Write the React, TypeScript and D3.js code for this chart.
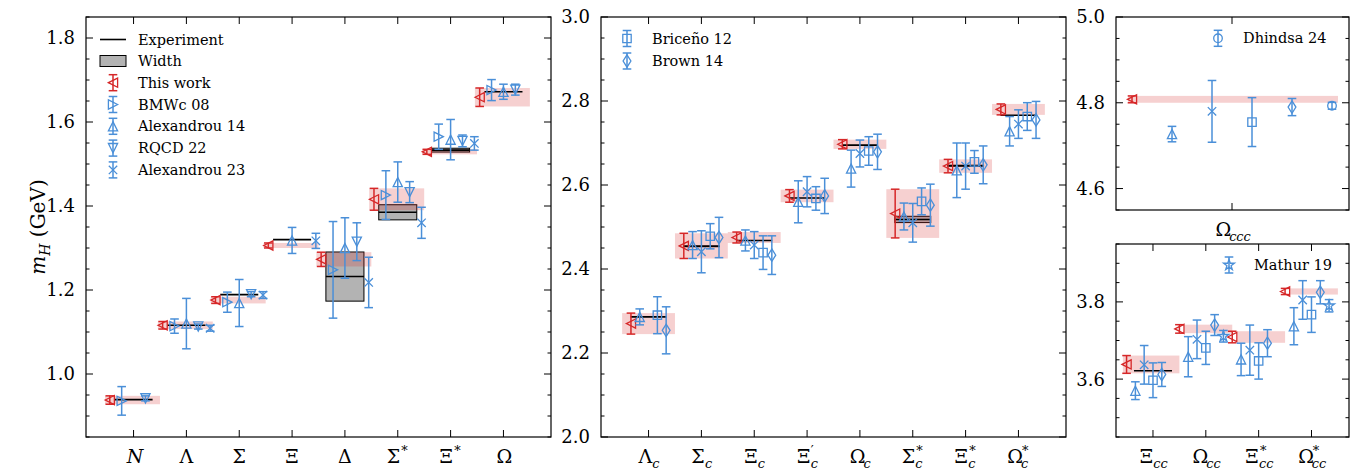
import React from "react";
import * as d3 from "d3";

type Pt = [number, number] | null;

const FONT = "DejaVu Serif";
const RED = "#d62728";
const BLUE = "#4a8fd8";

// ===== Light baryons =====
const lightCategories = ["N", "Λ", "Σ", "Ξ", "Δ", "Σ*", "Ξ*", "Ω"];
const lightExperiment: (number | null)[] = [0.939, 1.116, 1.189, 1.32, 1.232, 1.385, 1.533, 1.672];
const lightWidths = [0, 0, 0, 0, 0.117, 0.036, 0.0091, 0];
const lightThisWork: Pt[] = [[0.938, 0.01], [1.116, 0.009], [1.176, 0.008], [1.306, 0.006], [1.273, 0.017], [1.416, 0.026], [1.529, 0.006], [1.659, 0.022]];
const lightBMWc08: Pt[] = [[0.936, 0.034], [1.114, 0.017], [1.171, 0.024], null, [1.248, 0.115], [1.426, 0.058], [1.565, 0.03], [1.676, 0.025]];
const lightAlexandrou14: Pt[] = [null, [1.12, 0.06], [1.169, 0.056], [1.318, 0.031], [1.3, 0.072], [1.457, 0.048], [1.558, 0.048], [1.672, 0.018]];
const lightRQCD22: Pt[] = [[0.942, 0.006], [1.113, 0.006], [1.19, 0.006], null, [1.315, 0.045], [1.433, 0.025], [1.555, 0.014], [1.677, 0.013]];
const lightAlexandrou23: Pt[] = [null, [1.109, 0.007], [1.188, 0.008], [1.317, 0.018], [1.218, 0.06], [1.36, 0.037], [1.549, 0.016], null];
const lightTicks = [1.0, 1.2, 1.4, 1.6, 1.8];

// ===== Singly charmed =====
const charmCategories = ["Λ_c", "Σ_c", "Ξ_c", "Ξ′_c", "Ω_c", "Σ*_c", "Ξ*_c", "Ω*_c"];
const charmExperiment: (number | null)[] = [2.286, 2.454, 2.468, 2.569, 2.695, 2.518, 2.646, 2.766];
const charmWidths = [0, 0.002, 0, 0, 0, 0.015, 0.0024, 0];
const charmThisWork: Pt[] = [[2.27, 0.025], [2.455, 0.03], [2.475, 0.013], [2.574, 0.015], [2.697, 0.011], [2.532, 0.058], [2.645, 0.016], [2.78, 0.013]];
const charmAlexandrou14: Pt[] = [[2.286, 0.019], [2.457, 0.032], [2.468, 0.025], [2.56, 0.05], [2.639, 0.044], [2.525, 0.032], [2.635, 0.065], [2.728, 0.035]];
const charmAlexandrou23: Pt[] = [null, [2.441, 0.05], [2.457, 0.032], [2.584, 0.036], [2.675, 0.032], [2.51, 0.046], [2.645, 0.055], [2.745, 0.034]];
const charmBriceno12: Pt[] = [[2.29, 0.044], [2.478, 0.03], [2.439, 0.04], [2.568, 0.028], [2.681, 0.034], [2.561, 0.032], [2.655, 0.027], [2.763, 0.033]];
const charmBrown14: Pt[] = [[2.254, 0.056], [2.475, 0.048], [2.433, 0.046], [2.574, 0.042], [2.679, 0.042], [2.552, 0.05], [2.648, 0.045], [2.755, 0.044]];
const charmTicks = [2.0, 2.2, 2.4, 2.6, 2.8, 3.0];

// ===== Triply charmed =====
const tripleCategories = ["Ω_ccc"];
const tripleThisWork: Pt[] = [[4.808, 0.008]];
const tripleAlexandrou14: Pt[] = [[4.727, 0.018]];
const tripleAlexandrou23: Pt[] = [[4.78, 0.072]];
const tripleBriceno12: Pt[] = [[4.755, 0.057]];
const tripleBrown14: Pt[] = [[4.79, 0.02]];
const tripleDhindsa24: Pt[] = [[4.793, 0.008]];
const tripleTicks = [4.6, 4.8, 5.0];

// ===== Doubly charmed =====
const doubleCategories = ["Ξ_cc", "Ω_cc", "Ξ*_cc", "Ω*_cc"];
const doubleExperiment: (number | null)[] = [3.6216, null, null, null];
const doubleThisWork: Pt[] = [[3.638, 0.023], [3.73, 0.011], [3.709, 0.015], [3.827, 0.008]];
const doubleAlexandrou14: Pt[] = [[3.57, 0.023], [3.658, 0.052], [3.651, 0.042], [3.737, 0.048]];
const doubleAlexandrou23: Pt[] = [[3.637, 0.05], [3.703, 0.05], [3.675, 0.065], [3.805, 0.05]];
const doubleBriceno12: Pt[] = [[3.597, 0.045], [3.681, 0.043], [3.647, 0.047], [3.767, 0.046]];
const doubleBrown14: Pt[] = [[3.612, 0.031], [3.74, 0.027], [3.693, 0.035], [3.825, 0.03]];
const doubleMathur19: Pt[] = [null, [3.711, 0.015], null, [3.79, 0.016]];
const doubleTicks = [3.6, 3.8];

// ===== layout / style =====
type Series = { data: Pt[]; marker: string; color: string; off: number };
type PanelCfg = {
  left: number; right: number; top: number; bottom: number;
  xDomain: [number, number]; yDomain: [number, number];
  cats: string[]; catPos: number[]; ticks: number[];
  exp?: (number | null)[]; widths?: number[]; expHalf: number;
  band: Pt[]; bandLeft: number[]; bandRight: number[];
  series: Series[];
};

const txt = (size: number, extra: React.CSSProperties = {}): React.CSSProperties => ({
  fontFamily: FONT,
  fontSize: size,
  ...extra,
});

function markerPath(m: string): string {
  const s = 4.6;
  switch (m) {
    case "<": return `M${-s},0L${s},${-s}L${s},${s}Z`;
    case ">": return `M${s},0L${-s},${-s}L${-s},${s}Z`;
    case "^": return `M0,${-s}L${-s},${s}L${s},${s}Z`;
    case "v": return `M0,${s}L${-s},${-s}L${s},${-s}Z`;
    case "s": return `M${-4.2},${-4.2}H${4.2}V${4.2}H${-4.2}Z`;
    case "d": return `M0,${-6.2}L${3.9},0L0,${6.2}L${-3.9},0Z`;
    case "x": return `M${-4.2},${-4.2}L${4.2},${4.2}M${-4.2},${4.2}L${4.2},${-4.2}`;
    case "o": return `M${-4.3},0A4.3,4.3 0 1,0 ${4.3},0A4.3,4.3 0 1,0 ${-4.3},0Z`;
    case "*": return d3.symbol(d3.symbolStar, 36)() || "";
    default: return "";
  }
}

function ErrPoint({ x, y, lo, hi, marker, color }: { x: number; y: number; lo: number; hi: number; marker: string; color: string }) {
  const c = 4.3;
  return (
    <g stroke={color} fill="none" strokeWidth={1.5}>
      <line x1={x} x2={x} y1={lo} y2={hi} />
      <line x1={x - c} x2={x + c} y1={lo} y2={lo} />
      <line x1={x - c} x2={x + c} y1={hi} y2={hi} />
      <path d={markerPath(marker)} transform={`translate(${x},${y})`} strokeWidth={1.3} />
    </g>
  );
}

function MathLabel({ label, x, y, size }: { label: string; x: number; y: number; size: number }) {
  const [main, sub] = label.split("_");
  let base = main;
  let sup = "";
  const last = main.slice(-1);
  if (main.length > 1 && (last === "*" || last === "′")) {
    base = main.slice(0, -1);
    sup = last;
  }
  const italic = /^[A-Za-z]+$/.test(base);
  const small = size * 0.68;
  const baseW = size * 0.72;
  const supW = sup ? (sup === "*" ? small * 0.5 + 2 : small * 0.3) : 0;
  const subW = sub ? sub.length * small * 0.5 : 0;
  const total = baseW + Math.max(supW, subW);
  const x0 = x - total / 2;
  const sx = x0 + baseW + (sup === "*" ? 1 : 0);
  return (
    <g>
      <text x={x0} y={y} style={txt(size, { fontStyle: italic ? "italic" : "normal" })}>{base}</text>
      {sup && <text x={sx} y={y - size * 0.4} style={txt(small)}>{sup}</text>}
      {sub && <text x={x0 + baseW} y={y + size * 0.26} style={txt(small, { fontStyle: "italic" })}>{sub}</text>}
    </g>
  );
}

function Panel({ cfg, labelSize }: { cfg: PanelCfg; labelSize: number }) {
  const x = d3.scaleLinear().domain(cfg.xDomain).range([cfg.left, cfg.right]);
  const y = d3.scaleLinear().domain(cfg.yDomain).range([cfg.bottom, cfg.top]);
  const [y0, y1] = cfg.yDomain;
  const minor: number[] = [];
  for (let k = Math.ceil(y0 / 0.05 - 1e-6); k <= Math.floor(y1 / 0.05 + 1e-6); k++) minor.push(k * 0.05);
  const major = 7;
  const minLen = 3.5;
  return (
    <g>
      {cfg.exp && cfg.widths && cfg.exp.map((e, i) =>
        e !== null && cfg.widths![i] > 0 ? (
          <rect key={"w" + i} x={x(cfg.catPos[i] - cfg.expHalf)} width={x(cfg.catPos[i] + cfg.expHalf) - x(cfg.catPos[i] - cfg.expHalf)}
            y={y(e + cfg.widths![i] / 2)} height={y(e - cfg.widths![i] / 2) - y(e + cfg.widths![i] / 2)}
            fill="#b3b3b3" stroke="#000" strokeWidth={1} />
        ) : null
      )}
      {cfg.band.map((b, i) =>
        b ? (
          <rect key={"b" + i} x={x(cfg.catPos[i] + cfg.bandLeft[i])} width={x(cfg.catPos[i] + cfg.bandRight[i]) - x(cfg.catPos[i] + cfg.bandLeft[i])}
            y={y(b[0] + b[1])} height={y(b[0] - b[1]) - y(b[0] + b[1])} fill={RED} fillOpacity={0.22} />
        ) : null
      )}
      {cfg.exp && cfg.exp.map((e, i) =>
        e !== null ? (
          <line key={"e" + i} x1={x(cfg.catPos[i] - cfg.expHalf)} x2={x(cfg.catPos[i] + cfg.expHalf)} y1={y(e)} y2={y(e)} stroke="#000" strokeWidth={1.6} />
        ) : null
      )}
      {cfg.series.map((s, si) =>
        s.data.map((p, i) =>
          p ? (
            <ErrPoint key={`s${si}-${i}`} x={x(cfg.catPos[i] + s.off)} y={y(p[0])} lo={y(p[0] - p[1])} hi={y(p[0] + p[1])} marker={s.marker} color={s.color} />
          ) : null
        )
      )}
      <rect x={cfg.left} y={cfg.top} width={cfg.right - cfg.left} height={cfg.bottom - cfg.top} fill="none" stroke="#000" strokeWidth={1.2} />
      {minor.map((v, i) => {
        const isMajor = cfg.ticks.some((t) => Math.abs(t - v) < 1e-6);
        const len = isMajor ? major : minLen;
        return (
          <g key={"yt" + i} stroke="#000" strokeWidth={1}>
            <line x1={cfg.left} x2={cfg.left + len} y1={y(v)} y2={y(v)} />
            <line x1={cfg.right} x2={cfg.right - len} y1={y(v)} y2={y(v)} />
          </g>
        );
      })}
      {cfg.ticks.map((t, i) => (
        <text key={"yl" + i} x={cfg.left - 11} y={y(t)} dy="0.36em" textAnchor="end" style={txt(18)}>
          {t.toFixed(1)}
        </text>
      ))}
      {cfg.cats.map((c, i) => (
        <g key={"xt" + i}>
          <line x1={x(cfg.catPos[i])} x2={x(cfg.catPos[i])} y1={cfg.bottom} y2={cfg.bottom - major} stroke="#000" strokeWidth={1} />
          <line x1={x(cfg.catPos[i])} x2={x(cfg.catPos[i])} y1={cfg.top} y2={cfg.top + major} stroke="#000" strokeWidth={1} />
          <MathLabel label={c} x={x(cfg.catPos[i])} y={cfg.bottom + 26} size={labelSize} />
        </g>
      ))}
    </g>
  );
}

function LegendRow({ x, y, marker, color, text }: { x: number; y: number; marker: string; color: string; text: string }) {
  return (
    <g>
      <ErrPoint x={x} y={y} lo={y + 8} hi={y - 8} marker={marker} color={color} />
      <text x={x + 25} y={y} dy="0.35em" style={txt(14.5)}>{text}</text>
    </g>
  );
}

export default function App() {
  const panelA: PanelCfg = {
    left: 86, right: 551, top: 17, bottom: 437, xDomain: [-0.9, 7.9], yDomain: [0.85, 1.85],
    cats: lightCategories, catPos: lightCategories.map((_, i) => i), ticks: lightTicks,
    exp: lightExperiment, widths: lightWidths, expHalf: 0.36,
    band: lightThisWork, bandLeft: lightCategories.map(() => -0.54), bandRight: lightCategories.map(() => 0.5),
    series: [
      { data: lightThisWork, marker: "<", color: RED, off: -0.45 },
      { data: lightBMWc08, marker: ">", color: BLUE, off: -0.225 },
      { data: lightAlexandrou14, marker: "^", color: BLUE, off: 0 },
      { data: lightRQCD22, marker: "v", color: BLUE, off: 0.225 },
      { data: lightAlexandrou23, marker: "x", color: BLUE, off: 0.45 },
    ],
  };
  const panelB: PanelCfg = {
    left: 601, right: 1066, top: 17, bottom: 437, xDomain: [-0.9, 7.9], yDomain: [2.0, 3.0],
    cats: charmCategories, catPos: charmCategories.map((_, i) => i), ticks: charmTicks,
    exp: charmExperiment, widths: charmWidths, expHalf: 0.34,
    band: charmThisWork, bandLeft: charmCategories.map(() => -0.5), bandRight: charmCategories.map(() => 0.5),
    series: [
      { data: charmThisWork, marker: "<", color: RED, off: -0.333 },
      { data: charmAlexandrou14, marker: "^", color: BLUE, off: -0.167 },
      { data: charmAlexandrou23, marker: "x", color: BLUE, off: 0 },
      { data: charmBriceno12, marker: "s", color: BLUE, off: 0.167 },
      { data: charmBrown14, marker: "d", color: BLUE, off: 0.333 },
    ],
  };
  const panelC: PanelCfg = {
    left: 1116, right: 1349, top: 17, bottom: 210, xDomain: [-2.9, 2.925], yDomain: [4.55, 5.0],
    cats: tripleCategories, catPos: [0], ticks: tripleTicks, expHalf: 0,
    band: tripleThisWork, bandLeft: [-2.6], bandRight: [2.65],
    series: [
      { data: tripleThisWork, marker: "<", color: RED, off: -2.5 },
      { data: tripleAlexandrou14, marker: "^", color: BLUE, off: -1.5 },
      { data: tripleAlexandrou23, marker: "x", color: BLUE, off: -0.5 },
      { data: tripleBriceno12, marker: "s", color: BLUE, off: 0.5 },
      { data: tripleBrown14, marker: "d", color: BLUE, off: 1.5 },
      { data: tripleDhindsa24, marker: "o", color: BLUE, off: 2.5 },
    ],
  };
  const panelD: PanelCfg = {
    left: 1116, right: 1349, top: 244, bottom: 437, xDomain: [-0.7, 3.71], yDomain: [3.45, 3.95],
    cats: doubleCategories, catPos: doubleCategories.map((_, i) => i), ticks: doubleTicks,
    exp: doubleExperiment, widths: [0, 0, 0, 0], expHalf: 0.36,
    band: doubleThisWork, bandLeft: [-0.57, -0.4, -0.4, -0.4], bandRight: [0.5, 0.5, 0.5, 0.5],
    series: [
      { data: doubleThisWork, marker: "<", color: RED, off: -0.5 },
      { data: doubleAlexandrou14, marker: "^", color: BLUE, off: -0.333 },
      { data: doubleAlexandrou23, marker: "x", color: BLUE, off: -0.167 },
      { data: doubleBriceno12, marker: "s", color: BLUE, off: 0 },
      { data: doubleBrown14, marker: "d", color: BLUE, off: 0.167 },
      { data: doubleMathur19, marker: "*", color: BLUE, off: 0.333 },
    ],
  };

  const legendA = [
    { marker: "<", color: RED, text: "This work" },
    { marker: ">", color: BLUE, text: "BMWc 08" },
    { marker: "^", color: BLUE, text: "Alexandrou 14" },
    { marker: "v", color: BLUE, text: "RQCD 22" },
    { marker: "x", color: BLUE, text: "Alexandrou 23" },
  ];

  return (
    <svg width={1353} height={470} style={{ position: "absolute", left: 0, top: 0, background: "#fff", fontFamily: FONT }}>
      <rect width={1353} height={470} fill="#fff" />
      <Panel cfg={panelA} labelSize={19} />
      <Panel cfg={panelB} labelSize={19} />
      <Panel cfg={panelC} labelSize={19} />
      <Panel cfg={panelD} labelSize={19} />

      <text transform="translate(45,227) rotate(-90)" textAnchor="middle" style={txt(20)}>
        <tspan style={{ fontStyle: "italic" }}>m</tspan>
        <tspan style={{ fontStyle: "italic", fontSize: 14 }} dy={5}>H</tspan>
        <tspan dy={-5}> (GeV)</tspan>
      </text>

      <line x1={100} x2={126} y1={39.5} y2={39.5} stroke="#000" strokeWidth={1.6} />
      <text x={138} y={39.5} dy="0.35em" style={txt(14.5)}>Experiment</text>
      <rect x={100} y={55.5} width={26} height={11} fill="#b3b3b3" stroke="#000" strokeWidth={1} />
      <text x={138} y={61} dy="0.35em" style={txt(14.5)}>Width</text>
      {legendA.map((l, i) => (
        <LegendRow key={i} x={113} y={82.7 + i * 21.8} marker={l.marker} color={l.color} text={l.text} />
      ))}

      <LegendRow x={627} y={38.5} marker="s" color={BLUE} text="Briceño 12" />
      <LegendRow x={627} y={61} marker="d" color={BLUE} text="Brown 14" />

      <LegendRow x={1218} y={38.3} marker="o" color={BLUE} text="Dhindsa 24" />

      <LegendRow x={1229} y={265} marker="*" color={BLUE} text="Mathur 19" />
    </svg>
  );
}
